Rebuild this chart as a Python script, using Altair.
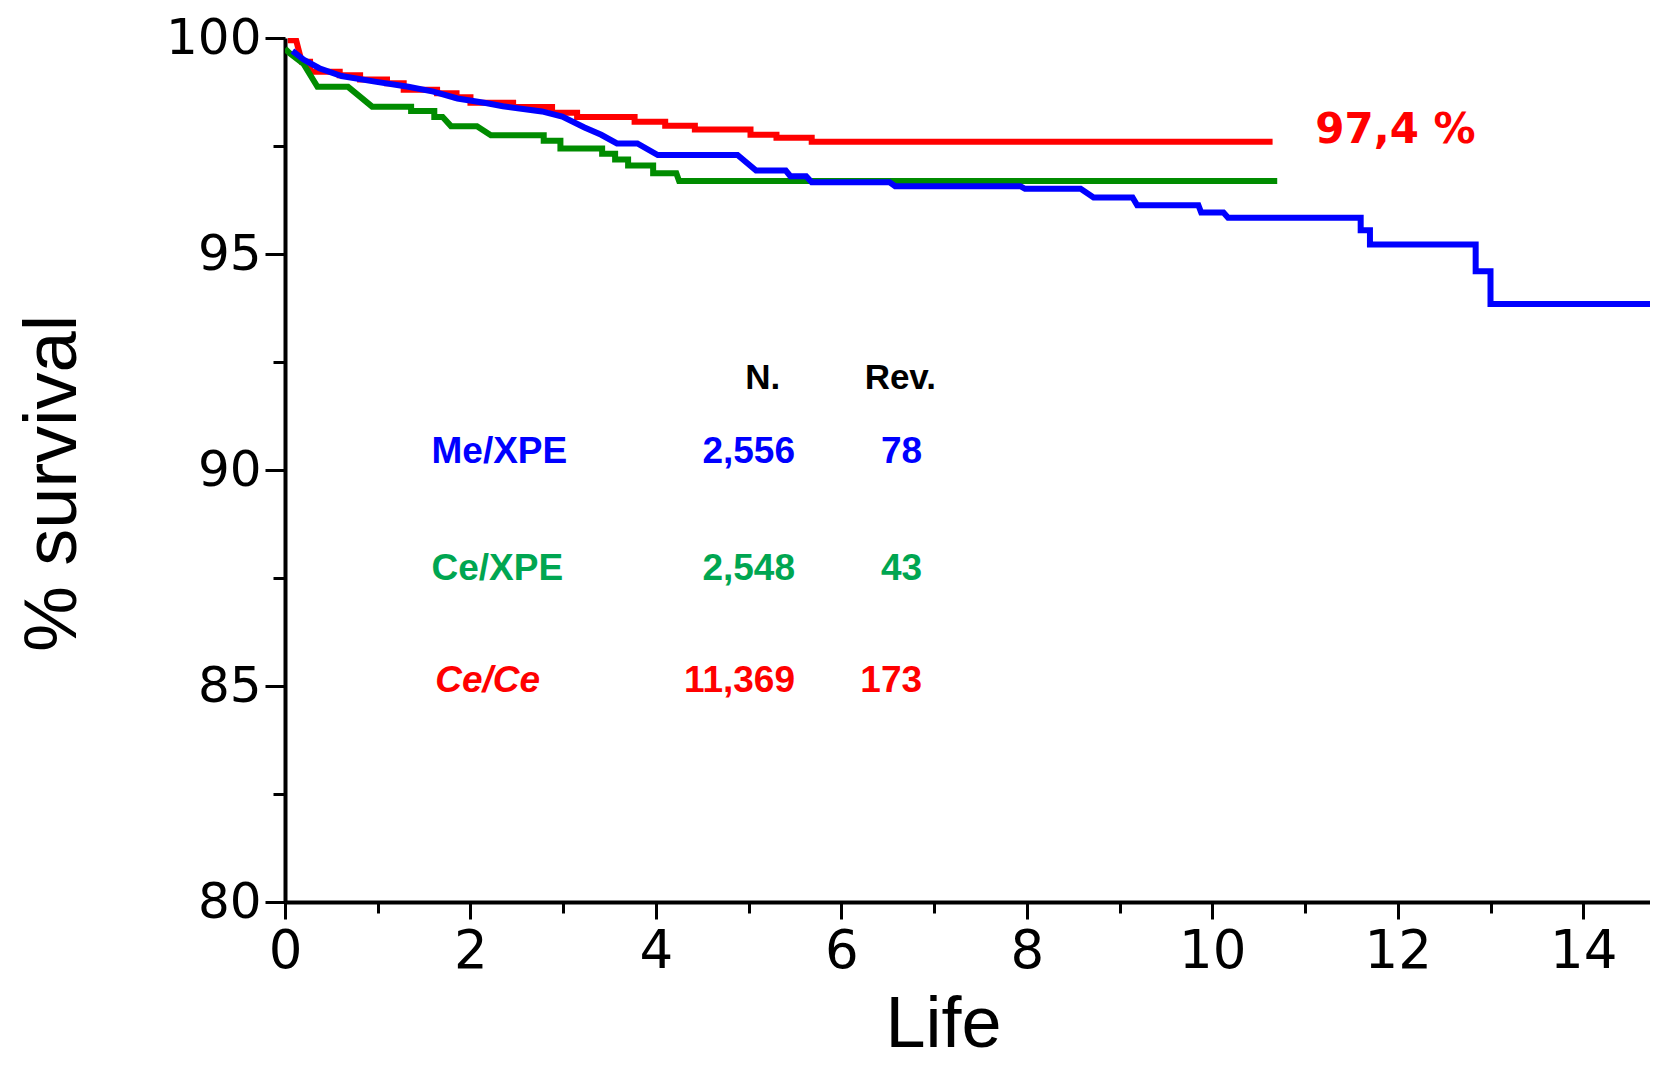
import altair as alt
import pandas as pd

# ---- Kaplan-Meier curves: (years, % survival) vertices ----
ce_ce_curve = [(0.03, 99.95), (0.12, 99.95), (0.18, 99.45), (0.27, 99.45), (0.27, 99.22),
               (0.59, 99.22), (0.59, 99.14), (0.81, 99.14), (0.81, 99.04), (1.10, 99.04),
               (1.10, 98.95), (1.28, 98.95), (1.28, 98.80), (1.64, 98.80), (1.64, 98.72),
               (1.85, 98.72), (1.85, 98.63), (2.00, 98.63), (2.00, 98.50), (2.46, 98.50),
               (2.46, 98.40), (2.88, 98.40), (2.88, 98.27), (3.15, 98.27), (3.15, 98.17),
               (3.77, 98.17), (3.77, 98.06), (4.10, 98.06), (4.10, 97.97), (4.42, 97.97),
               (4.42, 97.88), (5.02, 97.88), (5.02, 97.76), (5.30, 97.76), (5.30, 97.69),
               (5.68, 97.69), (5.68, 97.60), (10.65, 97.60)]

ce_xpe_curve = [(0.00, 99.75), (0.05, 99.65), (0.20, 99.40), (0.35, 98.87), (0.68, 98.87),
                (0.94, 98.41), (1.36, 98.41), (1.36, 98.31), (1.61, 98.31), (1.61, 98.17),
                (1.70, 98.17), (1.79, 97.96), (2.07, 97.96), (2.22, 97.75), (2.79, 97.75),
                (2.79, 97.62), (2.97, 97.62), (2.97, 97.44), (3.42, 97.44), (3.42, 97.32),
                (3.56, 97.32), (3.56, 97.19), (3.70, 97.19), (3.70, 97.05), (3.97, 97.05),
                (3.97, 96.87), (4.22, 96.87), (4.25, 96.69), (10.70, 96.69)]

me_xpe_curve = [(0.08, 99.70), (0.20, 99.50), (0.37, 99.30), (0.61, 99.12), (0.97, 98.99),
                (1.33, 98.87), (1.60, 98.76), (1.86, 98.60), (2.18, 98.49), (2.35, 98.42),
                (2.77, 98.30), (2.99, 98.18), (3.23, 97.93), (3.41, 97.76), (3.58, 97.56),
                (3.80, 97.56), (4.02, 97.29), (4.88, 97.29), (5.08, 96.93), (5.40, 96.93),
                (5.45, 96.80), (5.62, 96.80), (5.68, 96.66), (6.52, 96.66), (6.58, 96.57),
                (7.93, 96.57), (7.98, 96.51), (8.58, 96.51), (8.72, 96.31), (9.14, 96.31),
                (9.19, 96.13), (9.85, 96.13), (9.88, 95.96), (10.12, 95.96), (10.17, 95.84),
                (11.60, 95.84), (11.60, 95.55), (11.70, 95.55), (11.70, 95.22), (12.84, 95.22),
                (12.84, 94.60), (13.00, 94.60), (13.00, 93.84), (14.90, 93.84)]

# ---- table text ----
groups = ["Me/XPE", "Ce/XPE", "Ce/Ce"]
n_values = ["2,556", "2,548", "11,369"]
rev_values = ["78", "43", "173"]
text_colors = ["#0000FF", "#00A651", "#FF0000"]
final_label = "97,4 %"

# ---- axis ticks ----
x_major = [0, 2, 4, 6, 8, 10, 12, 14]
x_minor = [1, 3, 5, 7, 9, 11, 13]
y_major = [80, 85, 90, 95, 100]
y_minor = [82.5, 87.5, 92.5, 97.5]

x_scale = alt.Scale(domain=[0, 14.72], nice=False, zero=False)
y_scale = alt.Scale(domain=[80, 100], nice=False, zero=False)


def curve_df(points):
    return pd.DataFrame({"t": [p[0] for p in points],
                         "s": [p[1] for p in points],
                         "i": list(range(len(points)))})


major_x_axis = alt.Axis(values=x_major, orient="bottom", grid=False, format="d",
                        tickSize=17, tickWidth=3, tickColor="black",
                        domain=True, domainWidth=4, domainColor="black",
                        labelFont="DejaVu Sans", labelFontSize=53, labelColor="black",
                        labelPadding=48, labelBaseline="alphabetic", labelFlush=False,
                        labelOverlap=False,
                        title="Life", titleFont="Liberation Sans", titleFontSize=72,
                        titleFontWeight="normal", titleColor="black",
                        titleX=658, titleY=144, titleAlign="center",
                        titleBaseline="alphabetic")
minor_x_axis = alt.Axis(values=x_minor, orient="bottom", grid=False, labels=False,
                        domain=False, tickSize=11, tickWidth=3, tickColor="black",
                        title=None)
major_y_axis = alt.Axis(values=y_major, orient="left", grid=False, format="d",
                        tickSize=20, tickWidth=3, tickColor="black",
                        domain=True, domainWidth=4, domainColor="black",
                        labelFont="DejaVu Sans", labelFontSize=50, labelColor="black",
                        labelPadding=4, labelFlush=False, labelOverlap=False,
                        title="% survival", titleFont="Liberation Sans", titleFontSize=74,
                        titleFontWeight="normal", titleColor="black",
                        titleX=-232, titleY=445, titleAngle=270, titleAlign="center",
                        titleBaseline="middle")
minor_y_axis = alt.Axis(values=y_minor, orient="left", grid=False, labels=False,
                        domain=False, tickSize=12, tickWidth=3, tickColor="black",
                        title=None)


def line_layer(points, color, xaxis, yaxis):
    return alt.Chart(curve_df(points)).mark_line(
        strokeWidth=6, color=color, clip=True, interpolate="linear", strokeCap="butt"
    ).encode(
        x=alt.X("t:Q", scale=x_scale, axis=xaxis),
        y=alt.Y("s:Q", scale=y_scale, axis=yaxis),
        order=alt.Order("i:Q"),
    )


red = line_layer(ce_ce_curve, "#FF0000", minor_x_axis, minor_y_axis)
green = line_layer(ce_xpe_curve, "#008C00", major_x_axis, major_y_axis)
blue = line_layer(me_xpe_curve, "#0000FF", None, None)

anchor = pd.DataFrame({"k": [0]})


def text_layer(text, x, y, color, size, align, style="normal", font="Liberation Sans"):
    return alt.Chart(anchor).mark_text(
        text=text, font=font, fontSize=size, fontWeight="bold", fontStyle=style,
        color=color, align=align, baseline="alphabetic"
    ).encode(
        x=alt.X(datum=x, scale=x_scale, axis=None),
        y=alt.Y(datum=y, scale=y_scale, axis=None),
    )


row_y = [90.17, 87.45, 84.87]
texts = [
    text_layer("N.", 5.34, 91.88, "black", 35, "right"),
    text_layer("Rev.", 7.02, 91.88, "black", 35, "right"),
    text_layer(final_label, 11.11, 97.57, "#FF0000", 42, "left", font="DejaVu Sans"),
]
for k in range(len(groups)):
    italic = "italic" if groups[k] == "Ce/Ce" else "normal"
    lx = 1.62 if groups[k] == "Ce/Ce" else 1.58
    texts.append(text_layer(groups[k], lx, row_y[k], text_colors[k], 37, "left", italic))
    texts.append(text_layer(n_values[k], 5.50, row_y[k], text_colors[k], 37, "right"))
    texts.append(text_layer(rev_values[k], 6.87, row_y[k], text_colors[k], 37, "right"))

chart = alt.layer(red, green, blue, *texts).resolve_scale(
    x="shared", y="shared"
).resolve_axis(
    x="independent", y="independent"
).properties(
    width=1365, height=864,
    padding={"left": 277, "top": 30, "right": 0, "bottom": 162},
    autosize=alt.AutoSizeParams(type="none"),
    background="white",
).configure_view(stroke=None)

chart.save("out.html", embed_options={"renderer": "svg", "actions": False})
